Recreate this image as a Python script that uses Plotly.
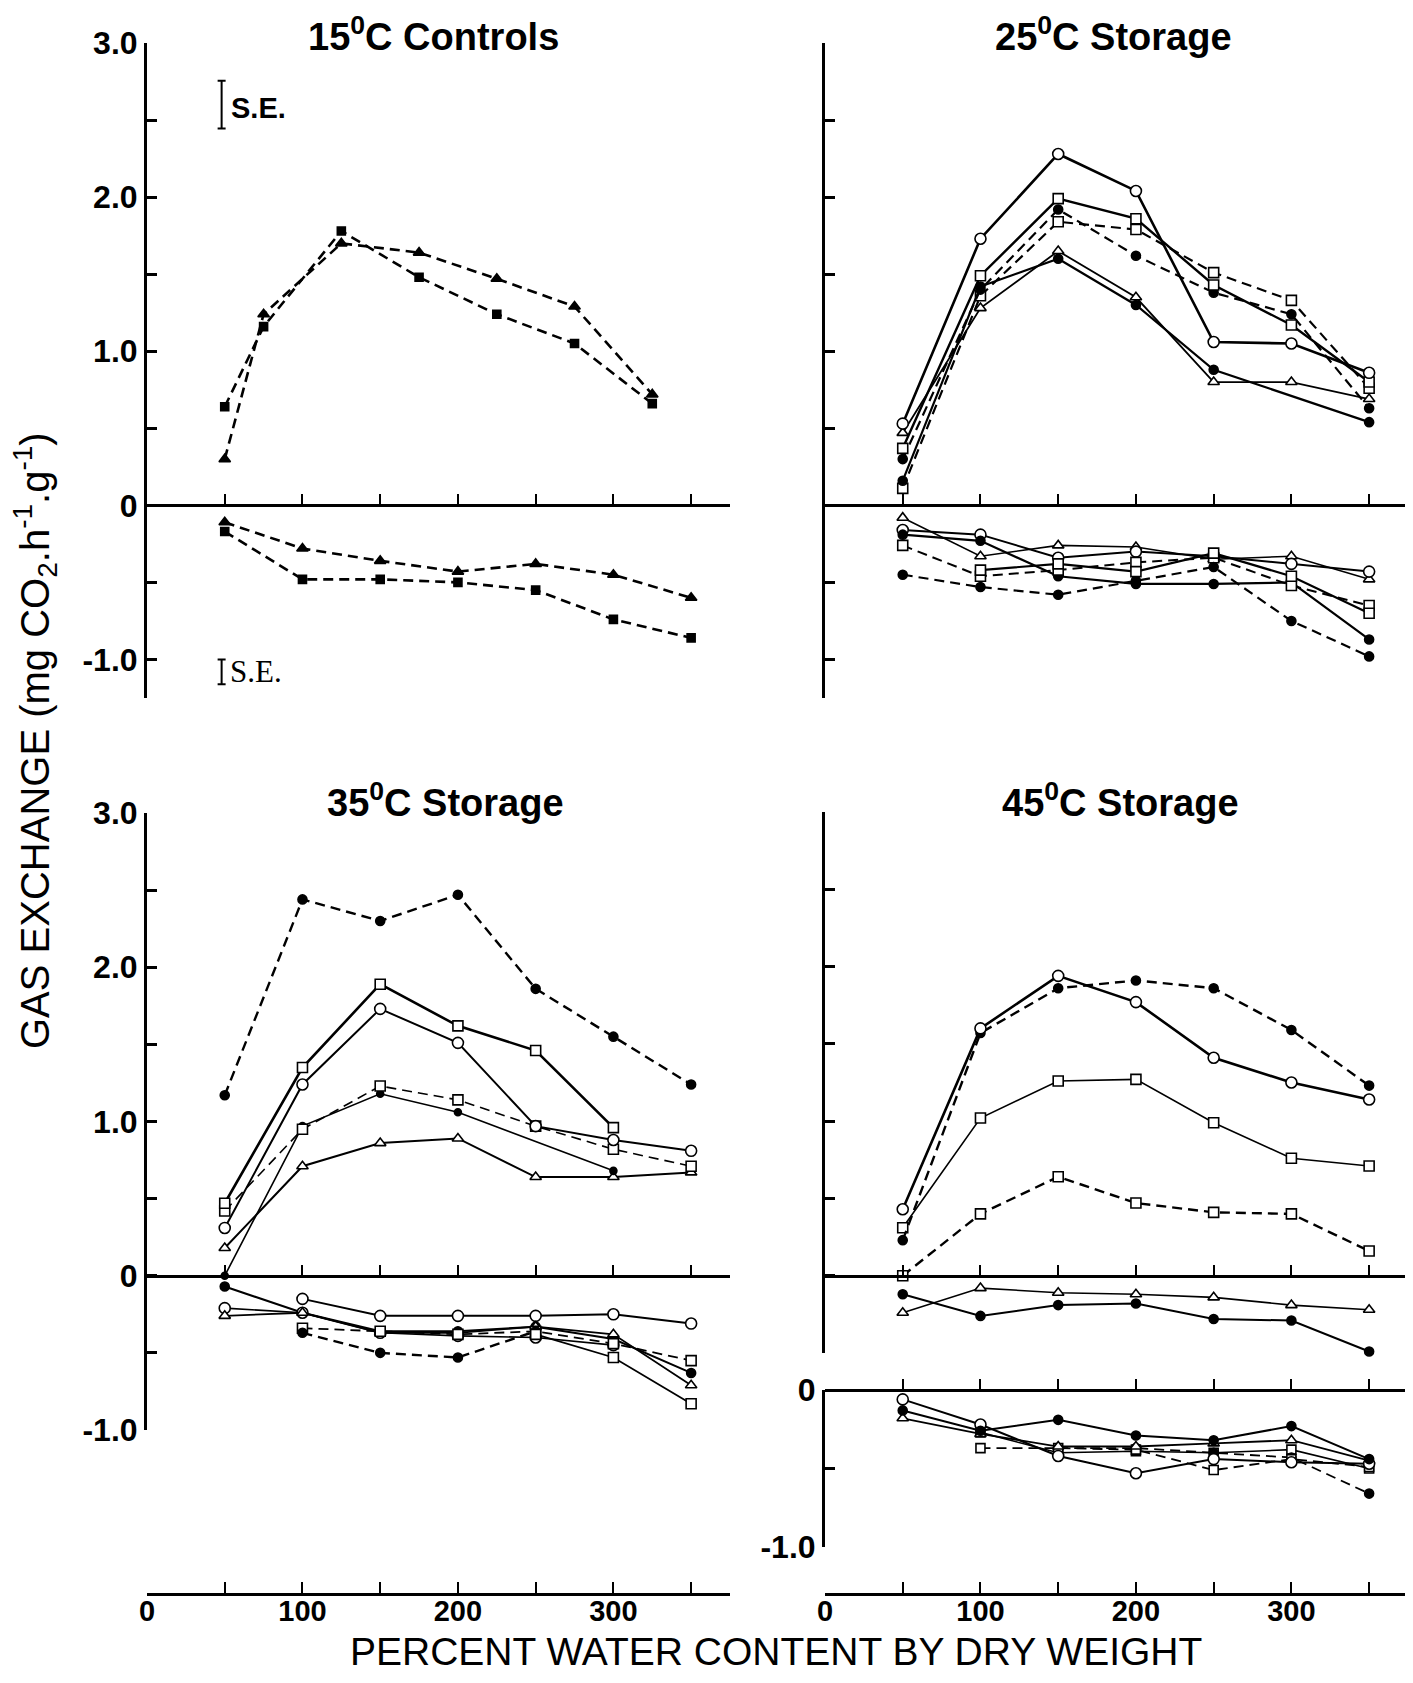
import plotly.graph_objects as go

# ---------------- data ----------------
WATER = [50, 100, 150, 200, 250, 300, 350]
WATER_CTRL = [50, 75, 125, 175, 225, 275, 325]
BOTTOM_TICKS = [0, 50, 100, 150, 200, 250, 300, 350]
BOTTOM_TEXT = ["0", "", "100", "", "200", "", "300", ""]

# 15 C controls
c15_sq_pos = [0.64, 1.16, 1.78, 1.48, 1.24, 1.05, 0.66]
c15_tri_pos = [0.30, 1.24, 1.70, 1.64, 1.47, 1.29, 0.72]
c15_tri_neg = [-0.11, -0.28, -0.36, -0.43, -0.38, -0.45, -0.60]
c15_sq_neg = [-0.17, -0.48, -0.48, -0.50, -0.55, -0.74, -0.86]

# 25 C storage (positive)
s25_circ_pos = [0.53, 1.73, 2.28, 2.04, 1.06, 1.05, 0.86]
s25_sq_pos = [0.37, 1.49, 1.99, 1.86, 1.43, 1.17, 0.80]
s25_sqd_pos = [0.11, 1.36, 1.84, 1.79, 1.51, 1.33, 0.76]
s25_filld_pos = [0.30, 1.40, 1.92, 1.62, 1.38, 1.24, 0.63]
s25_tri_pos = [0.47, 1.28, 1.65, 1.35, 0.80, 0.80, 0.69]
s25_fill_x = [50, 100, 150, 200, 250, 350]
s25_fill_pos = [0.16, 1.42, 1.60, 1.30, 0.88, 0.54]
# 25 C storage (negative)
s25_tri_neg = [-0.08, -0.33, -0.26, -0.27, -0.35, -0.33, -0.48]
s25_circ_neg = [-0.16, -0.19, -0.34, -0.30, -0.33, -0.38, -0.43]
s25_fill_neg = [-0.19, -0.23, -0.46, -0.51, -0.51, -0.50, -0.87]
s25_sqd_neg = [-0.26, -0.46, -0.42, -0.37, -0.34, -0.52, -0.65]
s25_filld_neg = [-0.45, -0.53, -0.58, -0.49, -0.40, -0.75, -0.98]
s25_sq_neg_x = [100, 150, 200, 250, 300, 350]
s25_sq_neg = [-0.42, -0.38, -0.43, -0.31, -0.46, -0.70]

# 35 C storage (positive)
s35_filld_pos = [1.17, 2.44, 2.30, 2.47, 1.86, 1.55, 1.24]
s35_sq_x = [50, 100, 150, 200, 250, 300]
s35_sq_pos = [0.47, 1.35, 1.89, 1.62, 1.46, 0.96]
s35_circ_pos = [0.31, 1.24, 1.73, 1.51, 0.97, 0.88, 0.81]
s35_sqd_pos = [0.42, 0.95, 1.23, 1.14, 0.97, 0.82, 0.71]
s35_fill_x = [50, 100, 150, 200, 300]
s35_fill_pos = [0.00, 0.97, 1.18, 1.06, 0.68]
s35_tri_pos = [0.18, 0.71, 0.86, 0.89, 0.64, 0.64, 0.67]
# 35 C storage (negative)
s35_circ_neg_x = [100, 150, 200, 250, 300, 350]
s35_circ_neg = [-0.15, -0.26, -0.26, -0.26, -0.25, -0.31]
s35_fill_neg = [-0.07, -0.24, -0.36, -0.36, -0.33, -0.41, -0.63]
s35_circ2_neg_x = [50, 100, 150, 200, 250, 300]
s35_circ2_neg = [-0.21, -0.24, -0.37, -0.39, -0.40, -0.45]
s35_tri_neg = [-0.26, -0.24, -0.37, -0.37, -0.33, -0.38, -0.71]
s35_sqd_neg_x = [100, 150, 200, 250, 300, 350]
s35_sqd_neg = [-0.34, -0.36, -0.38, -0.36, -0.44, -0.55]
s35_filld_neg_x = [100, 150, 200, 250]
s35_filld_neg = [-0.37, -0.50, -0.53, -0.36]
s35_sq_neg_x = [250, 300, 350]
s35_sq_neg = [-0.38, -0.53, -0.83]

# 45 C storage (upper panel)
s45_circ_pos = [0.43, 1.60, 1.94, 1.77, 1.41, 1.25, 1.14]
s45_filld_pos = [0.23, 1.57, 1.86, 1.91, 1.86, 1.59, 1.23]
s45_sq_pos = [0.31, 1.02, 1.26, 1.27, 0.99, 0.76, 0.71]
s45_sqd_pos = [0.00, 0.40, 0.64, 0.47, 0.41, 0.40, 0.16]
s45_fill_neg = [-0.12, -0.26, -0.19, -0.18, -0.28, -0.29, -0.49]
s45_tri_neg = [-0.24, -0.08, -0.11, -0.12, -0.14, -0.19, -0.22]
# 45 C storage (lower panel)
s45b_circ = [-0.06, -0.22, -0.42, -0.53, -0.44, -0.46, -0.47]
s45b_fill = [-0.13, -0.26, -0.19, -0.29, -0.32, -0.23, -0.44]
s45b_tri = [-0.18, -0.28, -0.36, -0.36, -0.34, -0.32, -0.45]
s45b_sqd_x = [100, 150, 200, 250, 300, 350]
s45b_sqd = [-0.37, -0.37, -0.38, -0.51, -0.44, -0.49]
s45b_filld_x = [150, 200, 250, 300, 350]
s45b_filld = [-0.37, -0.37, -0.40, -0.43, -0.66]
s45b_sq_x = [100, 150, 200, 250, 300, 350]
s45b_sq = [-0.27, -0.40, -0.39, -0.40, -0.38, -0.50]

# standard-error bars (15 C panel)
se_x = 48
se_up_center, se_up_half = 2.60, 0.155
se_low_center, se_low_half = -1.08, 0.08

# ---------------- layout geometry (page pixels) ----------------
PAGE_W, PAGE_H = 1413, 1683
OFF = 8                      # default <body> margin of the html page
W, H = PAGE_W - 2 * OFF, PAGE_H - 2 * OFF
PX_PER_UNIT = 583 / 375      # horizontal data scale, pixels per % water
FONT = "Arial, Liberation Sans, sans-serif"


def fx(p):
    return min(max((p - OFF) / W, 0.0), 1.0)


def fy(p):
    return min(max(1 - (p - OFF) / H, 0.0), 1.0)


def xmax_for(x0, x1):
    x1c = min(x1, OFF + W)
    return (x1c - x0) / PX_PER_UNIT


PANELS = {
    # id: (x0, x1, ytop, ybottom, yrange, tickvals, ticktext)
    1: (147, 730, 43, 698, (-1.25, 3.0), [-1, -0.5, 0, 0.5, 1, 1.5, 2, 2.5, 3],
        ["-1.0", "", "0", "", "1.0", "", "2.0", "", "3.0"]),
    2: (825, 1405, 43, 698, (-1.25, 3.0), [-1, -0.5, 0, 0.5, 1, 1.5, 2, 2.5, 3], None),
    3: (147, 730, 813, 1430, (-1.0, 3.0), [-1, -0.5, 0, 0.5, 1, 1.5, 2, 2.5, 3],
        ["-1.0", "", "0", "", "1.0", "", "2.0", "", "3.0"]),
    4: (825, 1405, 812, 1353, (-0.5, 3.0), [-0.5, 0, 0.5, 1, 1.5, 2, 2.5, 3], None),
    5: (825, 1405, 1390, 1547, (-1.0, 0.0), [-1, -0.5, 0], ["-1.0", "", "0"]),
}
BOTTOM_Y = 1583

fig = go.Figure()
layout = dict(width=W, height=H, autosize=False, template="none",
              margin=dict(l=0, r=0, t=0, b=0, pad=0, autoexpand=False),
              paper_bgcolor="white", plot_bgcolor="rgba(0,0,0,0)",
              showlegend=False, font=dict(family=FONT, color="black"))

for n, (x0, x1, yt, yb, yr, tv, tt) in PANELS.items():
    sfx = "" if n == 1 else str(n)
    zero_px = yt + (yr[1] - 0) / (yr[1] - yr[0]) * (yb - yt)
    layout["xaxis" + sfx] = dict(
        domain=[fx(x0), fx(x1)], range=[0, xmax_for(x0, x1)], anchor="free",
        position=fy(zero_px), showline=True, linecolor="black", linewidth=3,
        ticks="inside", tickvals=WATER, ticklen=10, tickwidth=2, tickcolor="black",
        showticklabels=False, showgrid=False, zeroline=False, fixedrange=True,
        automargin=False)
    ya = dict(
        domain=[fy(yb), fy(yt)], range=list(yr), anchor="x" + sfx,
        showline=True, linecolor="black", linewidth=3, ticks="inside",
        tickvals=tv, ticklen=10, tickwidth=2.5, tickcolor="black",
        showgrid=False, zeroline=False, fixedrange=True, automargin=False,
        tickfont=dict(family=FONT, size=32, color="black", weight=700))
    if tt is None:
        ya["showticklabels"] = False
    else:
        ya["ticktext"] = tt
    layout["yaxis" + sfx] = ya

# bottom x axes (labelled scale)
for n, (x0, x1) in ((6, (147, 730)), (7, (825, 1405))):
    layout["xaxis%d" % n] = dict(
        domain=[fx(x0), fx(x1)], range=[0, xmax_for(x0, x1)], anchor="y%d" % n,
        showline=True, linecolor="black", linewidth=2.5, ticks="inside",
        tickvals=BOTTOM_TICKS, ticktext=BOTTOM_TEXT, ticklen=11, tickwidth=2,
        tickcolor="black", showgrid=False, zeroline=False, fixedrange=True,
        automargin=False, ticklabelstandoff=-10,
        tickfont=dict(family=FONT, size=29, color="black", weight=700))
    layout["yaxis%d" % n] = dict(domain=[fy(BOTTOM_Y + 10), fy(BOTTOM_Y)],
                                 range=[0, 1], anchor="x%d" % n, visible=False,
                                 fixedrange=True, automargin=False)
    fig.add_trace(go.Scatter(x=[], y=[], xaxis="x%d" % n, yaxis="y%d" % n,
                             hoverinfo="skip"))

DASH = "10px,6px"


def add(ax, xs, ys, sym, filled, dashed=False, lw=2.0, size=10):
    sfx = "" if ax == 1 else str(ax)
    fig.add_trace(go.Scatter(
        x=xs, y=ys, xaxis="x" + sfx, yaxis="y" + sfx, mode="lines+markers",
        line=dict(color="black", width=lw, dash=DASH if dashed else "solid"),
        marker=dict(symbol=sym, size=size, color="black" if filled else "white",
                    line=dict(color="black", width=1.6)),
        hoverinfo="skip", cliponaxis=False))


# 15 C controls
add(1, WATER_CTRL, c15_sq_pos, "square", True, True, 2.6, 8)
add(1, WATER_CTRL, c15_tri_pos, "triangle-up", True, True, 2.6, 10)
add(1, WATER, c15_tri_neg, "triangle-up", True, True, 2.6, 10)
add(1, WATER, c15_sq_neg, "square", True, True, 2.6, 8)

# 25 C storage
add(2, WATER, s25_sqd_pos, "square", False, True, 2.2, 10)
add(2, WATER, s25_filld_pos, "circle", True, True, 2.2, 9)
add(2, WATER, s25_tri_pos, "triangle-up", False, False, 1.8, 10)
add(2, s25_fill_x, s25_fill_pos, "circle", True, False, 2.2, 9)
add(2, WATER, s25_sq_pos, "square", False, False, 2.4, 10)
add(2, WATER, s25_circ_pos, "circle", False, False, 2.6, 11)
add(2, WATER, s25_tri_neg, "triangle-up", False, False, 1.6, 10)
add(2, WATER, s25_circ_neg, "circle", False, False, 2.0, 11)
add(2, WATER, s25_fill_neg, "circle", True, False, 2.2, 9)
add(2, WATER, s25_sqd_neg, "square", False, True, 2.0, 10)
add(2, WATER, s25_filld_neg, "circle", True, True, 2.2, 9)
add(2, s25_sq_neg_x, s25_sq_neg, "square", False, False, 2.2, 10)

# 35 C storage
add(3, WATER, s35_filld_pos, "circle", True, True, 2.4, 9)
add(3, WATER, s35_tri_pos, "triangle-up", False, False, 2.0, 10)
add(3, s35_fill_x, s35_fill_pos, "circle", True, False, 1.6, 7)
add(3, WATER, s35_sqd_pos, "square", False, True, 1.6, 10)
add(3, WATER, s35_circ_pos, "circle", False, False, 2.0, 11)
add(3, s35_sq_x, s35_sq_pos, "square", False, False, 2.6, 10)
add(3, s35_circ_neg_x, s35_circ_neg, "circle", False, False, 2.0, 11)
add(3, WATER, s35_fill_neg, "circle", True, False, 2.0, 9)
add(3, s35_circ2_neg_x, s35_circ2_neg, "circle", False, False, 1.6, 11)
add(3, WATER, s35_tri_neg, "triangle-up", False, False, 1.8, 10)
add(3, s35_sqd_neg_x, s35_sqd_neg, "square", False, True, 1.8, 10)
add(3, s35_filld_neg_x, s35_filld_neg, "circle", True, True, 2.4, 9)
add(3, s35_sq_neg_x, s35_sq_neg, "square", False, False, 1.8, 10)

# 45 C storage, upper
add(4, WATER, s45_sqd_pos, "square", False, True, 2.4, 10)
add(4, WATER, s45_sq_pos, "square", False, False, 1.6, 10)
add(4, WATER, s45_filld_pos, "circle", True, True, 2.4, 9)
add(4, WATER, s45_circ_pos, "circle", False, False, 2.6, 11)
add(4, WATER, s45_tri_neg, "triangle-up", False, False, 1.6, 10)
add(4, WATER, s45_fill_neg, "circle", True, False, 2.0, 9)

# 45 C storage, lower
add(5, s45b_sq_x, s45b_sq, "square", False, False, 1.6, 9)
add(5, s45b_filld_x, s45b_filld, "circle", True, True, 1.8, 9)
add(5, s45b_sqd_x, s45b_sqd, "square", False, True, 1.8, 9)
add(5, WATER, s45b_tri, "triangle-up", False, False, 1.8, 10)
add(5, WATER, s45b_circ, "circle", False, False, 2.0, 11)
add(5, WATER, s45b_fill, "circle", True, False, 2.0, 9)

# S.E. bars
for c, h in ((se_up_center, se_up_half), (se_low_center, se_low_half)):
    fig.add_trace(go.Scatter(
        x=[se_x], y=[c], xaxis="x", yaxis="y", mode="markers",
        marker=dict(size=1, color="rgba(0,0,0,0)"),
        error_y=dict(type="data", array=[h], visible=True, color="black",
                     thickness=2, width=4), hoverinfo="skip"))

annotations = [
    dict(text="<b>S.E.</b>", x=se_x + 5, y=se_up_center - 0.02, xref="x", yref="y",
         xanchor="left", yanchor="middle", showarrow=False,
         font=dict(family=FONT, size=29, color="black")),
    dict(text="S.E.", x=se_x + 4, y=se_low_center, xref="x", yref="y",
         xanchor="left", yanchor="middle", showarrow=False,
         font=dict(family="Liberation Serif, serif", size=31, color="black")),
]

# panel titles: top row anchored to the top edge so the text box stays inside
TITLES = [("15<sup>0</sup>C Controls", 434, None), ("25<sup>0</sup>C Storage", 1113, None),
          ("35<sup>0</sup>C Storage", 445, 800), ("45<sup>0</sup>C Storage", 1120, 800)]
for txt, tx, ty in TITLES:
    annotations.append(dict(text="<b>" + txt + "</b>", x=fx(tx),
                            y=1.0 if ty is None else fy(ty),
                            xref="paper", yref="paper", xanchor="center",
                            yanchor="top" if ty is None else "middle",
                            showarrow=False,
                            font=dict(family=FONT, size=38, color="black")))

annotations.append(dict(
    text="GAS EXCHANGE (mg CO<sub>2</sub>.h<sup>-1</sup>.g<sup>-1</sup>)",
    x=fx(35), y=fy(741), xref="paper", yref="paper", textangle=-90,
    xanchor="center", yanchor="middle", showarrow=False,
    font=dict(family=FONT, size=40, color="black")))
annotations.append(dict(
    text="PERCENT WATER CONTENT BY DRY WEIGHT",
    x=fx(776), y=0.0, xref="paper", yref="paper",
    xanchor="center", yanchor="bottom", showarrow=False,
    font=dict(family=FONT, size=39, color="black")))

layout["annotations"] = annotations
fig.update_layout(**layout)
fig.write_html("out.html")
